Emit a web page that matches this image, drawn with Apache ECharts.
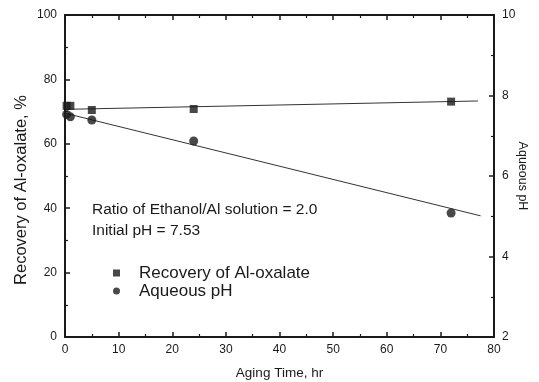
<!DOCTYPE html>
<html><head><meta charset="utf-8">
<script src="https://cdn.jsdelivr.net/npm/echarts@6/dist/echarts.min.js"></script>
<style>html,body{margin:0;padding:0;background:#fff}#c{width:539px;height:382px}</style>
</head><body><div id="c"></div>
<script>
// Data
const recTime = [0.3, 1, 5, 24, 72];
const recVal = [71.8, 71.8, 70.5, 70.8, 73.1];
const phTime = [0.3, 1, 5, 24, 72];
const phVal = [7.53, 7.47, 7.39, 6.87, 5.08];
const recFitX = [0, 77];
const recFitY = [70.7, 73.3];
const phFitX = [0, 77.5];
const phFitY = [7.56, 5.01];
const xTicks = [0, 10, 20, 30, 40, 50, 60, 70, 80];
const noteLines = ['Ratio of Ethanol/Al solution = 2.0', 'Initial pH = 7.53'];
const legendNames = ['Recovery of Al-oxalate', 'Aqueous pH'];

const ink = '#1a1a1a';
const font = 'Liberation Sans, Arial, sans-serif';
const zip = (a, b) => a.map((v, i) => [v, b[i]]);

const chart = echarts.init(document.getElementById('c'));
const axisCommon = {
  axisLine: {show: true, onZero: false, lineStyle: {color: ink, width: 2}},
  axisTick: {show: true, inside: true, length: 5, lineStyle: {color: ink, width: 1.5}},
  minorTick: {show: true, splitNumber: 2, length: 3, lineStyle: {color: ink, width: 1.2}},
  splitLine: {show: false},
  axisLabel: {color: ink, fontFamily: font, fontSize: 12}
};
chart.setOption({
  animation: false,
  backgroundColor: '#fff',
  grid: {left: 65, right: 45, top: 15, bottom: 45, containLabel: false, outerBoundsMode: 'none'},
  legend: {
    orient: 'vertical', left: 108, top: 259, itemGap: 0,
    itemWidth: 7, itemHeight: 7,
    textStyle: {color: ink, fontFamily: font, fontSize: 17, lineHeight: 18, padding: [0, 0, 0, 14]},
    data: [{name: legendNames[0], icon: 'rect'}, {name: legendNames[1], icon: 'circle'}]
  },
  xAxis: [
    Object.assign({}, axisCommon, {
      type: 'value', min: 0, max: 80, interval: 10, position: 'bottom',
      name: 'Aging Time, hr', nameLocation: 'middle', nameGap: 29, nameMoveOverlap: false,
      nameTextStyle: {color: ink, fontFamily: font, fontSize: 13.5},
      axisLabel: Object.assign({}, axisCommon.axisLabel, {margin: 7, formatter: v => xTicks.includes(v) ? String(v) : ''})
    }),
    Object.assign({}, axisCommon, {
      type: 'value', min: 0, max: 80, interval: 10, position: 'top',
      axisLabel: {show: false}
    })
  ],
  yAxis: [
    Object.assign({}, axisCommon, {
      type: 'value', min: 0, max: 100, interval: 20, position: 'left',
      name: 'Recovery of Al-oxalate, %', nameLocation: 'middle', nameGap: 35, nameMoveOverlap: false,
      nameTextStyle: {color: ink, fontFamily: font, fontSize: 16.5, padding: [0, 28, 0, 0]},
      axisLabel: Object.assign({}, axisCommon.axisLabel, {margin: 8})
    }),
    Object.assign({}, axisCommon, {
      type: 'value', min: 2, max: 10, interval: 2, position: 'right',
      name: 'Aqueous pH', nameLocation: 'middle', nameGap: 22, nameRotate: -90, nameMoveOverlap: false,
      nameTextStyle: {color: ink, fontFamily: font, fontSize: 12.5},
      axisLabel: Object.assign({}, axisCommon.axisLabel, {margin: 8})
    })
  ],
  series: [
    {name: legendNames[0], type: 'scatter', yAxisIndex: 0, symbol: 'rect', symbolSize: 8,
     itemStyle: {color: ink}, data: zip(recTime, recVal), z: 5},
    {name: legendNames[1], type: 'scatter', yAxisIndex: 1, symbol: 'circle', symbolSize: 9,
     itemStyle: {color: ink}, data: zip(phTime, phVal), z: 5},
    {name: 'recfit', type: 'line', yAxisIndex: 0, showSymbol: false, symbol: 'none',
     lineStyle: {color: '#333', width: 1}, data: zip(recFitX, recFitY)},
    {name: 'phfit', type: 'line', yAxisIndex: 1, showSymbol: false, symbol: 'none',
     lineStyle: {color: '#333', width: 1}, data: zip(phFitX, phFitY)}
  ],
  graphic: [
    {type: 'text', left: 92, top: 202, style: {text: noteLines[0], fill: ink, font: '15.5px ' + font}},
    {type: 'text', left: 92, top: 223, style: {text: noteLines[1], fill: ink, font: '15.5px ' + font}}
  ]
});
</script></body></html>
